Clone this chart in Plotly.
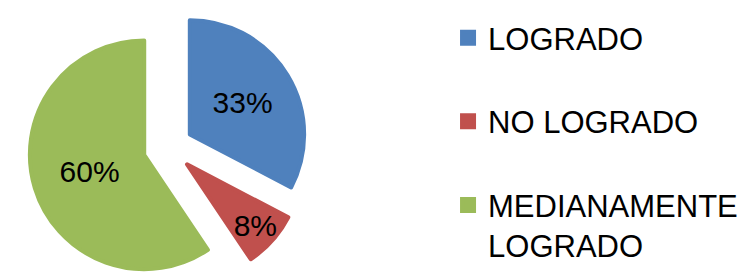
import plotly.graph_objects as go

labels = ["LOGRADO", "NO LOGRADO", "MEDIANAMENTE<br>LOGRADO"]
values = [33, 8, 60]
colors = ["#4F81BD", "#C0504D", "#9BBB59"]
pulls = [0.22, 0.22, 0.22]

legend_labels = [l + "<br> " if i < len(labels) - 1 else l for i, l in enumerate(labels)]

fig = go.Figure(go.Pie(
    labels=legend_labels,
    values=values,
    sort=False,
    direction="clockwise",
    rotation=0,
    pull=pulls,
    marker=dict(colors=colors, line=dict(color=colors, width=4)),
    texttemplate="%{value}%",
    textposition="inside",
    insidetextorientation="horizontal",
    textfont=dict(family="Liberation Sans, Arial", size=30, color="black"),
    hoverinfo="label+percent",
    domain=dict(x=[0.027, 0.401], y=[0, 1]),
))

fig.update_layout(
    width=749, height=279,
    margin=dict(l=0, r=0, t=0, b=0, autoexpand=False),
    paper_bgcolor="white",
    plot_bgcolor="white",
    showlegend=True,
    uniformtext=dict(minsize=30, mode="show"),
    legend=dict(
        x=0.5875, y=0.989, xanchor="left", yanchor="top",
        font=dict(family="Liberation Sans, Arial", size=31, color="black"),
        valign="top",
        bgcolor="rgba(0,0,0,0)",
    ),
)

fig.write_html("out.html")
